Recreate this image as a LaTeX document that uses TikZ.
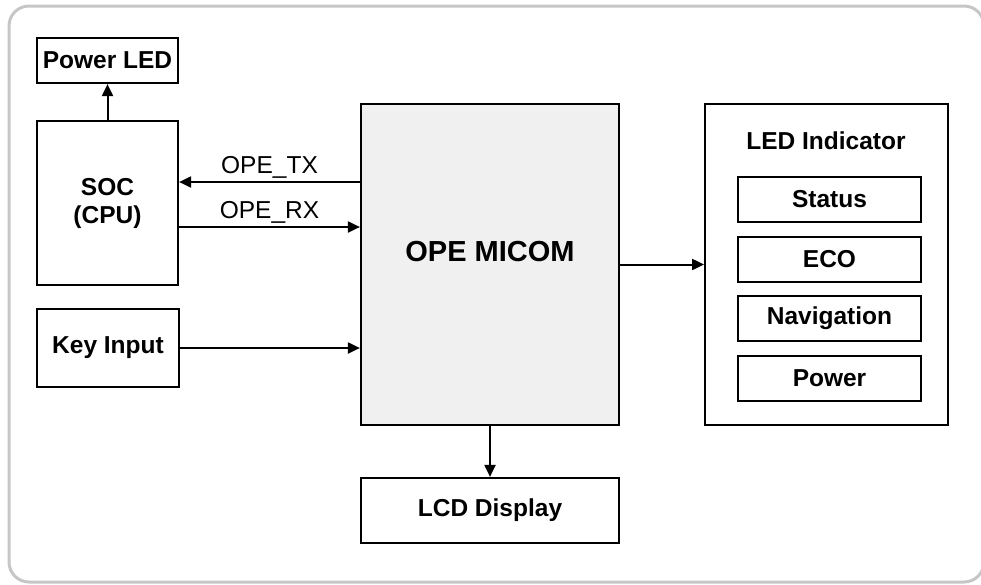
\documentclass[tikz,border=0pt]{standalone}
\usepackage{fontspec}
\setmainfont{Liberation Sans}
\usetikzlibrary{arrows.meta,positioning}
\definecolor{framegray}{HTML}{C6C6C6}
\definecolor{micomfill}{HTML}{F0F0F0}

\begin{document}
\begin{tikzpicture}[x=1pt,y=-1pt,
  blk/.style={draw, line width=2.2pt, inner sep=0pt, align=center,
    font=\fontsize{24.5}{28}\selectfont\bfseries},
  lbl/.style={inner sep=0pt, font=\fontsize{24.5}{28}\selectfont\bfseries},
  sig/.style={inner sep=3pt, font=\fontsize{24.5}{28}\selectfont},
  arr/.style={-{Triangle[length=12pt,width=11pt]}, line width=2pt}]
 \useasboundingbox (0,0) rectangle (981,584);
 % outer frame
 \begin{scope}
  \clip (0,0) rectangle (981,584);
  \draw[framegray, line width=3pt, rounded corners=20pt] (9,6) rectangle (984,582);
 \end{scope}
 % left column
 \node[blk, minimum width=141pt, minimum height=45pt] (pled) at (107.5,60.5) {Power LED};
 \node[blk, minimum width=141pt, minimum height=164pt] (soc) at (107.5,203) {SOC\\(CPU)};
 \node[blk, minimum width=142pt, minimum height=78pt] (key) at (108,348) {Key Input};
 % micom and display
 \node[blk, fill=micomfill, minimum width=258pt, minimum height=321pt] (micom) at (490,264.5) {};
 \node[lbl, font=\fontsize{29}{33}\selectfont\bfseries] (micomtxt) at (490,252) {OPE MICOM};
 \node[blk, minimum width=258pt, minimum height=65pt] (lcd) at (490,510.5) {LCD Display};
 % led indicator group
 \node[blk, line width=1.8pt, minimum width=243pt, minimum height=321pt] (ledind) at (826.5,264.5) {};
 \node[lbl] (ledtxt) at (826,141) {LED Indicator};
 \node[blk, minimum width=183pt, minimum height=45pt] (status) at (829.5,199.5) {Status};
 \node[blk, minimum width=183pt, minimum height=45pt] (eco) at (829.5,259.5) {ECO};
 \node[blk, minimum width=183pt, minimum height=45pt] (nav) at (829.5,318.5) {Navigation};
 \node[blk, minimum width=183pt, minimum height=45pt] (pwr) at (829.5,378.5) {Power};
 % signal levels
 \coordinate (txlev) at (0,182);
 \coordinate (rxlev) at (0,227);
 % connectors
 \draw[arr] (soc.north) -- (pled.south);
 \draw[arr] (micom.west |- txlev) -- (soc.east |- txlev) node[sig, midway, above] (txlbl) {OPE\_TX};
 \draw[arr] (soc.east |- rxlev) -- (micom.west |- rxlev) node[sig, midway, above] (rxlbl) {OPE\_RX};
 \draw[arr] (key.east) -- (micom.west |- key.east);
 \draw[arr] (micom.east) -- (ledind.west);
 \draw[arr] (micom.south) -- (lcd.north);
\end{tikzpicture}
\end{document}
